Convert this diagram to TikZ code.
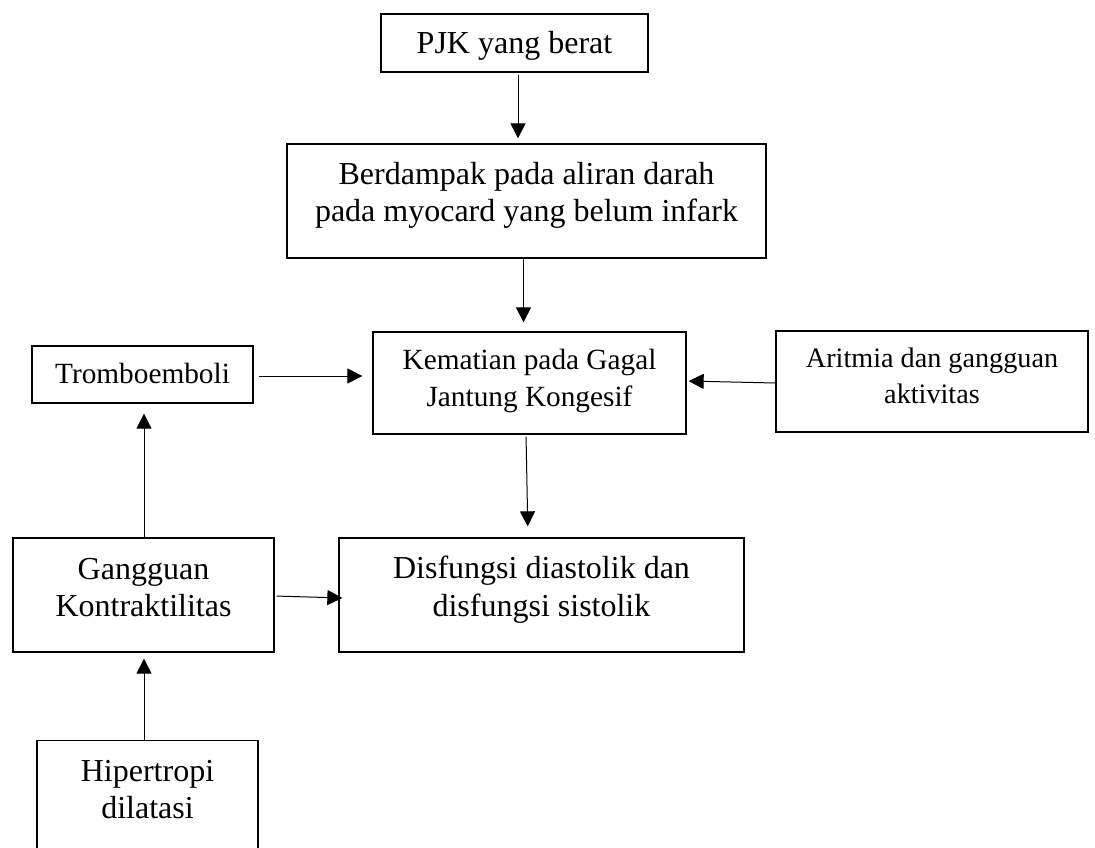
\documentclass[tikz,border=0pt]{standalone}
\usepackage{fontspec}
\setmainfont{Liberation Serif}
\usepackage{tikz}
\usetikzlibrary{shapes.geometric, arrows.meta, positioning}

\begin{document}
\begin{tikzpicture}[x=1pt, y=-1pt]
    % styles
    \tikzstyle{block} = [rectangle, draw, line width=1.3pt, align=center, inner sep=0pt, text depth=0pt, font=\fontsize{32}{37.5}\selectfont]
    \tikzstyle{blockmid} = [block, font=\fontsize{29.3}{37}\selectfont]
    \tikzstyle{blocksmall} = [block, font=\fontsize{28.2}{36}\selectfont]
    \tikzstyle{arrow} = [line width=1pt, -{Triangle[length=15pt,width=15pt]}]

    \clip (0,0) rectangle (1095,848);

    % nodes
    \node (pjk) [block, minimum width=267pt, minimum height=58pt, text height=20.6pt] at (514.5,43) {PJK yang berat};
    \node (dampak) [block, minimum width=479pt, minimum height=114pt, text height=41.4pt] at (526.5,201) {Berdampak pada aliran darah\\pada myocard yang belum infark};
    \node (mati) [blockmid, minimum width=313pt, minimum height=102pt, text height=46pt] at (529.5,383) {Kematian pada Gagal\\Jantung Kongesif};
    \node (trombo) [blockmid, minimum width=221pt, minimum height=57pt, text height=17.6pt] at (142.5,374.5) {Tromboemboli};
    \node (aritmia) [blocksmall, minimum width=312pt, minimum height=101pt, text height=43.6pt] at (932,381.5) {Aritmia dan gangguan\\aktivitas};
    \node (kontraksi) [block, minimum width=261pt, minimum height=114pt, text height=43.4pt] at (143.5,595) {Gangguan\\Kontraktilitas};
    \node (disfungsi) [block, minimum width=405pt, minimum height=114pt, text height=42pt] at (541.5,595) {Disfungsi diastolik dan\\disfungsi sistolik};
    \node (hipertropi) [block, minimum width=221pt, text height=78pt, text depth=100pt, anchor=north] at (147.5,740) {Hipertropi\\dilatasi};

    % connectors
    \draw [arrow, shorten <=2pt, shorten >=5pt] ([xshift=3.5pt]pjk.south) -- ([xshift=-8.5pt]dampak.north);
    \draw [arrow, shorten >=9pt] ([xshift=-3pt]dampak.south) -- ([xshift=-6pt]mati.north);
    \draw [arrow, shorten <=5pt, shorten >=10pt] ([yshift=-1.5pt]trombo.east) -- ([yshift=-1.5pt]trombo.east -| mati.west);
    \draw [arrow, shorten >=2pt] ([yshift=-1.5pt]aritmia.west) -- ([yshift=2pt]mati.east);
    \draw [arrow, shorten <=2pt, shorten >=11pt] ([xshift=-3.5pt]mati.south) -- ([xshift=-13.5pt]disfungsi.north);
    \draw [arrow, shorten <=2pt] ([yshift=-1pt]kontraksi.east) -- ([xshift=4pt,yshift=-3pt]disfungsi.west);
    \draw [arrow, shorten >=10pt] ([xshift=0.5pt]kontraksi.north) -- ([xshift=0.5pt]kontraksi.north |- trombo.south);
    \draw [arrow, shorten >=6pt] ([xshift=-3.5pt]hipertropi.north) -- ([xshift=-3.5pt]hipertropi.north |- kontraksi.south);
\end{tikzpicture}
\end{document}
